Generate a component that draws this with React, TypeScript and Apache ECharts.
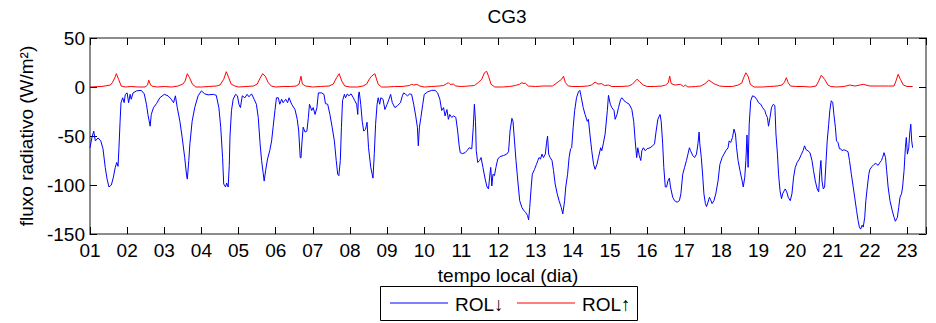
import React, { useEffect, useRef } from 'react';
import * as echarts from 'echarts';

const FONT = '"Liberation Sans", Arial, Helvetica, "DejaVu Sans", sans-serif';

const chartTitle = 'CG3';
const xAxisTitle = 'tempo local (dia)';
const yAxisTitle = 'fluxo radiativo (W/m²)';
const seriesNames = ['ROL↓', 'ROL↑'];
const seriesColors = ['#0000ff', '#ff0000'];
const xMin = 1;
const xMax = 23.51;
const yMin = -150;
const yMax = 50;

// ROL↓ : [day, W/m²]
const rolDown: [number, number][] = [
  [1.0, -62], [1.05, -52], [1.1, -45], [1.144, -55], [1.216, -52], [1.29, -55], [1.35, -63], [1.41, -82],
  [1.46, -94], [1.51, -102], [1.575, -100], [1.63, -92], [1.68, -82], [1.72, -77], [1.755, -81], [1.78, -62],
  [1.81, -35], [1.835, -16], [1.88, -11], [1.92, -16], [1.95, -7.5], [2.0, -6], [2.04, -16], [2.08, -7.5],
  [2.11, -12.5], [2.16, -6], [2.25, -4], [2.38, -3.4], [2.46, -7], [2.52, -17.6], [2.56, -28], [2.62, -40],
  [2.65, -28], [2.71, -21], [2.79, -17], [2.88, -11], [3.0, -7.5], [3.1, -9], [3.19, -12.5], [3.25, -16],
  [3.3, -9], [3.35, -21], [3.42, -35], [3.48, -51], [3.55, -72], [3.6, -90], [3.62, -94], [3.66, -75],
  [3.69, -58], [3.75, -35], [3.82, -21], [3.91, -9], [4.0, -4], [4.09, -7], [4.18, -8], [4.32, -7.5],
  [4.4, -8.5], [4.47, -21], [4.52, -41], [4.57, -72], [4.6, -99], [4.65, -102], [4.68, -98], [4.72, -102],
  [4.75, -80], [4.77, -50], [4.81, -24], [4.855, -12.5], [4.92, -7.5], [4.97, -9], [5.01, -17.6], [5.05, -21],
  [5.1, -9], [5.17, -11], [5.23, -7.5], [5.28, -10], [5.35, -7], [5.42, -12.5], [5.48, -17.6], [5.53, -31],
  [5.58, -58], [5.62, -75], [5.66, -87], [5.69, -96], [5.73, -85], [5.78, -73.5], [5.84, -65], [5.89, -55],
  [5.93, -41], [5.98, -24], [6.02, -11], [6.07, -11], [6.11, -17.6], [6.16, -12.5], [6.2, -16], [6.27, -12.5],
  [6.32, -16], [6.36, -11], [6.43, -17.6], [6.52, -23], [6.58, -33], [6.62, -45], [6.66, -72], [6.68, -72.5],
  [6.71, -55], [6.74, -41], [6.79, -46], [6.84, -45], [6.88, -31], [6.91, -17.6], [6.97, -24], [7.01, -21],
  [7.06, -28], [7.11, -21], [7.15, -6], [7.24, -6], [7.3, -7.5], [7.34, -17], [7.4, -17.6], [7.46, -28],
  [7.52, -41], [7.58, -55], [7.63, -75], [7.67, -89], [7.7, -90.5], [7.74, -75], [7.77, -41], [7.8, -14],
  [7.85, -7.5], [7.88, -11], [7.93, -7], [7.97, -9], [8.03, -7], [8.09, -11], [8.13, -14], [8.18, -17.6],
  [8.21, -28], [8.23, -7.5], [8.25, -5], [8.29, -17.6], [8.33, -35], [8.37, -45], [8.42, -43], [8.46, -36],
  [8.5, -62], [8.56, -82], [8.62, -93], [8.655, -68], [8.69, -38], [8.73, -17.6], [8.76, -11], [8.8, -17.6],
  [8.83, -11], [8.89, -12.5], [8.94, -23], [9.0, -17.6], [9.05, -12.5], [9.095, -7.5], [9.14, -16], [9.21, -21],
  [9.28, -19], [9.36, -16], [9.41, -9], [9.445, -6], [9.5, -7.5], [9.55, -9], [9.61, -7], [9.66, -7.5],
  [9.715, -17.6], [9.77, -29.5], [9.815, -41], [9.84, -60], [9.87, -41], [9.91, -31], [9.96, -17.6], [10.0, -7.5],
  [10.09, -5], [10.2, -3.4], [10.29, -3.4], [10.36, -6], [10.42, -12.5], [10.47, -24], [10.52, -21], [10.56, -29.5],
  [10.61, -23], [10.65, -33], [10.685, -28], [10.74, -31], [10.79, -29.5], [10.85, -31], [10.9, -45], [10.94, -60],
  [10.97, -67], [11.03, -68], [11.1, -67], [11.15, -65], [11.21, -62], [11.28, -63], [11.32, -41], [11.35, -17.6],
  [11.38, -35], [11.4, -65], [11.44, -77], [11.49, -75], [11.53, -72], [11.58, -82], [11.64, -94], [11.69, -102],
  [11.73, -104], [11.76, -92], [11.79, -82], [11.82, -101], [11.85, -89], [11.89, -90.5], [11.93, -82], [11.98, -73.5],
  [12.04, -71], [12.13, -70], [12.22, -68.5], [12.27, -66], [12.31, -45], [12.36, -32], [12.39, -35], [12.43, -55],
  [12.47, -75], [12.52, -96], [12.57, -116], [12.63, -123], [12.68, -126], [12.73, -128], [12.78, -131], [12.81, -135.6],
  [12.84, -123], [12.88, -102], [12.91, -89], [12.97, -84], [13.02, -79], [13.06, -75], [13.09, -72], [13.13, -73.5],
  [13.17, -68.5], [13.21, -72], [13.26, -68.5], [13.29, -58], [13.32, -50], [13.35, -68.5], [13.39, -72], [13.44, -75],
  [13.48, -85], [13.525, -99], [13.58, -109], [13.63, -116], [13.69, -123], [13.73, -129.5], [13.78, -116], [13.81, -102],
  [13.86, -89], [13.9, -72], [13.94, -63], [13.97, -62], [14.01, -41], [14.05, -24], [14.1, -11], [14.15, -5],
  [14.19, -3.4], [14.23, -11], [14.28, -21], [14.33, -28], [14.39, -35], [14.42, -33], [14.46, -48], [14.51, -65],
  [14.56, -79], [14.6, -84], [14.65, -79], [14.69, -72], [14.75, -62], [14.78, -65], [14.82, -58], [14.87, -48],
  [14.93, -24], [14.96, -8.5], [15.01, -17.6], [15.05, -21], [15.11, -24], [15.14, -33], [15.19, -28], [15.23, -21],
  [15.29, -12.5], [15.32, -11], [15.38, -14], [15.45, -16], [15.52, -17.6], [15.59, -23], [15.64, -35], [15.68, -55],
  [15.72, -72], [15.75, -62], [15.79, -70], [15.83, -75], [15.86, -65], [15.9, -62], [15.95, -65], [16.0, -63],
  [16.08, -62], [16.15, -60], [16.2, -58], [16.24, -46], [16.29, -33], [16.35, -28], [16.38, -35], [16.42, -58],
  [16.45, -82], [16.49, -102], [16.525, -102], [16.56, -96], [16.6, -93], [16.63, -102], [16.69, -112.5], [16.74, -116],
  [16.81, -117.6], [16.87, -116], [16.91, -109], [16.96, -89], [17.01, -82], [17.06, -75], [17.1, -68.5], [17.14, -62],
  [17.17, -65], [17.23, -70], [17.28, -72], [17.33, -68.5], [17.37, -58], [17.4, -46], [17.42, -58], [17.46, -72],
  [17.5, -92], [17.53, -109], [17.57, -119], [17.6, -122], [17.64, -117.6], [17.68, -112.5], [17.71, -115], [17.75, -119],
  [17.8, -116], [17.85, -109], [17.91, -96], [17.96, -79], [18.02, -72], [18.07, -68.5], [18.12, -65], [18.18, -62],
  [18.21, -55], [18.25, -56.6], [18.3, -51.5], [18.34, -43], [18.38, -48], [18.41, -62], [18.45, -75], [18.5, -85],
  [18.56, -96], [18.59, -102], [18.63, -92], [18.66, -75], [18.69, -49], [18.72, -82], [18.75, -38], [18.79, -14],
  [18.84, -9], [18.9, -10], [18.95, -12.5], [19.0, -16], [19.06, -17.6], [19.11, -21], [19.17, -24], [19.2, -28],
  [19.24, -31], [19.27, -40], [19.31, -31], [19.35, -21], [19.4, -17.6], [19.44, -19], [19.47, -48], [19.51, -68.5],
  [19.54, -89], [19.58, -106], [19.62, -114], [19.65, -109], [19.69, -106], [19.72, -104], [19.76, -107], [19.8, -112.5],
  [19.855, -116], [19.9, -109], [19.945, -92], [19.99, -82], [20.04, -77], [20.1, -73.5], [20.15, -69], [20.2, -65],
  [20.24, -60], [20.28, -64], [20.33, -65], [20.385, -67], [20.44, -75], [20.48, -85], [20.53, -96], [20.58, -104],
  [20.62, -107], [20.655, -85], [20.68, -75], [20.71, -96], [20.745, -104], [20.78, -102], [20.82, -75], [20.85, -55],
  [20.89, -38], [20.92, -24], [20.96, -14], [21.0, -16], [21.03, -28], [21.07, -41], [21.1, -55], [21.14, -56.6],
  [21.18, -63], [21.21, -63], [21.25, -65], [21.3, -64], [21.36, -65], [21.41, -66], [21.45, -75], [21.5, -89],
  [21.55, -102], [21.59, -112.5], [21.64, -126], [21.68, -136], [21.715, -143], [21.75, -145], [21.79, -141], [21.82, -143],
  [21.86, -133], [21.89, -116], [21.93, -102], [21.97, -89], [22.0, -84], [22.06, -81], [22.11, -79], [22.16, -78],
  [22.22, -80], [22.27, -77], [22.31, -75], [22.34, -72], [22.38, -67], [22.42, -72], [22.45, -85], [22.49, -102],
  [22.54, -116], [22.6, -126], [22.65, -133], [22.685, -137], [22.74, -133], [22.775, -123], [22.81, -112.5], [22.85, -109],
  [22.88, -102], [22.92, -85], [22.955, -62], [22.98, -51.5], [23.01, -68.5], [23.045, -62], [23.07, -48], [23.1, -38],
  [23.125, -55], [23.15, -62],
];

// ROL↑ : [day, W/m²]
const rolUp: [number, number][] = [
  [1.0, 0], [1.3, 0.5], [1.4, 1], [1.55, 2], [1.6, 4.4], [1.67, 9.5], [1.71, 13.6], [1.77, 7.8], [1.84, 1],
  [1.95, 0], [2.1, 0.5], [2.3, 0], [2.48, 0], [2.55, 2], [2.58, 7], [2.62, 3], [2.66, 1], [2.8, 0], [3.0, 0.5],
  [3.2, 0], [3.37, 1], [3.5, 3], [3.56, 6], [3.62, 13.6], [3.68, 9.5], [3.76, 2.7], [3.85, 0], [4.0, 0],
  [4.2, 0.5], [4.4, 1], [4.5, 2], [4.6, 7.8], [4.67, 15.6], [4.73, 10], [4.8, 3], [4.9, 1], [5.0, 0],
  [5.2, 0.5], [5.4, 1], [5.5, 3], [5.58, 9], [5.65, 13.6], [5.72, 11], [5.8, 4.4], [5.88, 1], [6.0, 0],
  [6.2, 0.5], [6.4, 0.5], [6.55, 1], [6.63, 3], [6.68, 11], [6.72, 3], [6.8, 1], [7.0, 0], [7.2, 0.5],
  [7.44, 1], [7.55, 3], [7.64, 9.5], [7.71, 13.6], [7.78, 6], [7.86, 1], [8.0, 0], [8.2, 0], [8.35, 1],
  [8.45, 3], [8.52, 8], [8.58, 11], [8.67, 13.6], [8.76, 2.7], [8.85, 0], [9.0, 0], [9.2, 0.5], [9.4, 0.5],
  [9.6, 1.5], [9.66, 2.7], [9.72, 2], [9.8, 2.7], [9.88, 1], [10.0, 0], [10.2, 0.5], [10.4, 1], [10.52, 1.5],
  [10.6, 3.4], [10.65, 4.4], [10.7, 2.5], [10.78, 3], [10.85, 1], [11.0, 0.5], [11.2, 1], [11.35, 1.5],
  [11.45, 4.4], [11.55, 8], [11.62, 14.5], [11.68, 16], [11.73, 11], [11.8, 2.7], [11.9, 0], [12.1, 0],
  [12.3, 0.5], [12.45, 1.5], [12.56, 2.7], [12.63, 4.4], [12.68, 3.4], [12.72, 4], [12.8, 1], [13.0, 0.5],
  [13.2, 1], [13.45, 1], [13.6, 5], [13.7, 8], [13.75, 11], [13.8, 4.4], [13.88, 1], [14.0, 0.5], [14.2, 0.5],
  [14.4, 1], [14.5, 2], [14.6, 5], [14.68, 3], [14.78, 3.4], [14.85, 1.5], [14.96, 2], [15.05, 0.5], [15.3, 0.5],
  [15.5, 1], [15.6, 2.7], [15.73, 8], [15.8, 5.4], [15.9, 2], [16.0, 0.5], [16.2, 0.5], [16.4, 1], [16.5, 2],
  [16.57, 4.4], [16.61, 11], [16.65, 3.4], [16.75, 2], [16.9, 2.7], [16.98, 0.5], [17.03, 2], [17.1, 0],
  [17.3, 0.5], [17.45, 1], [17.56, 3.4], [17.66, 7], [17.8, 3.4], [17.95, 1], [18.1, 0.5], [18.3, 0.5],
  [18.45, 2], [18.55, 4], [18.6, 9.5], [18.66, 14.5], [18.72, 11], [18.78, 2.7], [18.88, 0], [19.1, 0],
  [19.3, 0.5], [19.5, 1], [19.63, 2], [19.7, 5], [19.75, 9.5], [19.8, 4.4], [19.86, 1], [20.0, 0.5], [20.2, 0.5],
  [20.4, 0], [20.55, 1], [20.62, 6], [20.69, 12], [20.78, 7.8], [20.87, 2], [20.95, 0.5], [21.1, 0], [21.3, 0.5],
  [21.46, 2], [21.6, 1], [21.82, 2.7], [22.0, 1], [22.3, 1], [22.5, 1], [22.65, 1], [22.7, 6], [22.76, 13],
  [22.82, 7.8], [22.9, 2], [23.0, 0.5], [23.15, 0.5],
];

export default function App() {
  const ref = useRef<HTMLDivElement>(null);

  useEffect(() => {
    if (!ref.current) return;
    const chart = echarts.init(ref.current, null, { renderer: 'svg' });
    const frameLine = { show: true, onZero: false, lineStyle: { color: '#8c8c8c', width: 2 } };
    const ticks = { show: true, inside: true, length: 7, lineStyle: { color: '#000', width: 1 } };
    const xLabelFmt = (v: number) => (Number.isInteger(v) ? String(v).padStart(2, '0') : '');
    const textEl = (text: string, x: number, y: number, align: string) => ({
      type: 'text',
      x,
      y,
      silent: true,
      style: { text, fill: '#000', fontSize: 19, fontFamily: FONT, align, verticalAlign: 'middle' },
    });

    // Legend drawn as a boxed key (line sample + label per series)
    const legendX = 380;
    const legendY = 286;
    const legendItems = [
      { lineX: 390, textX: 455 },
      { lineX: 517, textX: 582 },
    ];
    const legendGraphics: any[] = [
      {
        type: 'rect',
        silent: true,
        shape: { x: legendX + 0.5, y: legendY + 0.5, width: 257, height: 34 },
        style: { fill: '#fff', stroke: '#000', lineWidth: 1 },
      },
    ];
    legendItems.forEach((it, i) => {
      legendGraphics.push({
        type: 'line',
        silent: true,
        shape: { x1: it.lineX, y1: legendY + 17, x2: it.lineX + 58, y2: legendY + 17 },
        style: { stroke: seriesColors[i], lineWidth: 1.2 },
      });
      legendGraphics.push(textEl(seriesNames[i], it.textX, legendY + 18, 'left'));
    });

    chart.setOption({
      animation: false,
      backgroundColor: '#ffffff',
      textStyle: { fontFamily: FONT },
      grid: { left: 90, right: 10, top: 38, bottom: 89, containLabel: false },
      legend: { show: false, data: seriesNames },
      graphic: [textEl(chartTitle, 507, 16.5, 'center'), ...legendGraphics],
      xAxis: [
        {
          type: 'value',
          position: 'bottom',
          min: xMin,
          max: xMax,
          interval: 1,
          axisLine: frameLine,
          axisTick: ticks,
          splitLine: { show: false },
          axisLabel: { formatter: xLabelFmt, fontSize: 19, color: '#000', margin: 7, fontFamily: FONT },
          name: xAxisTitle,
          nameLocation: 'middle',
          nameGap: 32,
          nameTextStyle: { fontSize: 19, color: '#000', fontFamily: FONT },
        },
        {
          type: 'value',
          position: 'top',
          min: xMin,
          max: xMax,
          interval: 1,
          axisLine: frameLine,
          axisTick: ticks,
          splitLine: { show: false },
          axisLabel: { show: false },
        },
      ],
      yAxis: [
        {
          type: 'value',
          position: 'left',
          min: yMin,
          max: yMax,
          interval: 50,
          axisLine: frameLine,
          axisTick: ticks,
          splitLine: { show: false },
          axisLabel: { fontSize: 19, color: '#000', margin: 5, fontFamily: FONT },
          name: yAxisTitle,
          nameLocation: 'middle',
          nameGap: 54,
          nameRotate: 90,
          nameTextStyle: { fontSize: 19, color: '#000', fontFamily: FONT },
        },
        {
          type: 'value',
          position: 'right',
          min: yMin,
          max: yMax,
          interval: 50,
          axisLine: frameLine,
          axisTick: ticks,
          splitLine: { show: false },
          axisLabel: { show: false },
        },
      ],
      series: [
        {
          name: seriesNames[0],
          type: 'line',
          xAxisIndex: 0,
          yAxisIndex: 0,
          data: rolDown,
          symbol: 'none',
          lineStyle: { color: seriesColors[0], width: 1 },
          itemStyle: { color: seriesColors[0] },
          emphasis: { disabled: true },
        },
        {
          name: seriesNames[1],
          type: 'line',
          xAxisIndex: 0,
          yAxisIndex: 0,
          data: rolUp,
          symbol: 'none',
          lineStyle: { color: seriesColors[1], width: 1 },
          itemStyle: { color: seriesColors[1] },
          emphasis: { disabled: true },
        },
      ],
    });
    return () => chart.dispose();
  }, []);

  return (
    <div
      ref={ref}
      style={{ position: 'fixed', left: 0, top: 0, width: 936, height: 323, background: '#fff' }}
    />
  );
}
